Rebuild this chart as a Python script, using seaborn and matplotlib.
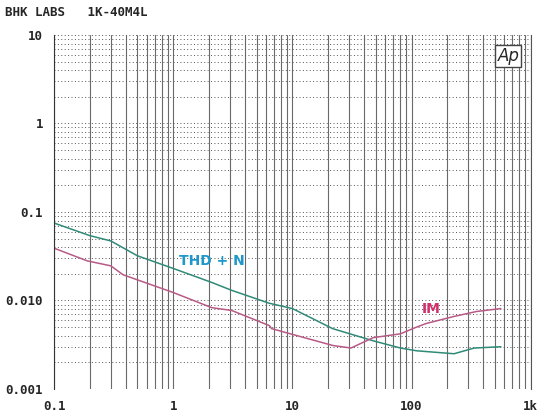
import numpy as np
import pandas as pd
import matplotlib.pyplot as plt
import seaborn as sns
from matplotlib.ticker import FixedLocator, NullFormatter

# values
thd_freq = [0.1, 0.2, 0.3, 0.5, 1.0, 2.1, 3.1, 6.4, 10, 21.8, 47.6, 80.7, 110, 227, 335, 560]
thd_vals = [0.075, 0.054, 0.047, 0.032, 0.023, 0.016, 0.013, 0.0093, 0.0081,
            0.0048, 0.0035, 0.0029, 0.0027, 0.0025, 0.0029, 0.0030]

im_freq = [0.1, 0.19, 0.3, 0.38, 1.0, 2.1, 3.1, 6.4, 6.7, 21.8, 31, 47.6, 80.7, 110, 133, 227, 350, 560]
im_vals = [0.039, 0.028, 0.0246, 0.0195, 0.0123, 0.0083, 0.0077, 0.0052, 0.0048,
           0.0031, 0.0029, 0.0038, 0.0042, 0.0050, 0.0055, 0.0066, 0.0075, 0.0081]

x_ticks = [0.1, 1, 10, 100, 1000]
x_labels = ["0.1", "1", "10", "100", "1k"]
y_ticks = [0.001, 0.01, 0.1, 1, 10]
y_labels = ["0.001", "0.010", "0.1", "1", "10"]

df_thd = pd.DataFrame({"freq": thd_freq, "val": thd_vals})
df_im = pd.DataFrame({"freq": im_freq, "val": im_vals})

sns.set_style("white")
plt.rcParams['font.family'] = ['DejaVu Sans Mono', 'DejaVu Sans']

fig = plt.figure(figsize=(5.4, 4.16), dpi=100)
ax = fig.add_axes([0.1, 0.065, 0.883, 0.851])

sns.lineplot(x="freq", y="val", data=df_thd, ax=ax, color="#2f8a78", linewidth=1.1)
sns.lineplot(x="freq", y="val", data=df_im, ax=ax, color="#b85a86", linewidth=1.1)

ax.set_xscale("log")
ax.set_yscale("log")
ax.set_xlim(0.1, 1000)
ax.set_ylim(0.001, 10)

# grid: solid verticals, dotted horizontals
minor = [m * 10.0 ** e for e in range(-3, 3) for m in range(2, 10)]
ax.xaxis.set_minor_locator(FixedLocator(minor))
ax.yaxis.set_minor_locator(FixedLocator(minor))
ax.xaxis.set_minor_formatter(NullFormatter())
ax.yaxis.set_minor_formatter(NullFormatter())
ax.grid(True, axis="x", which="both", color="#6a6a6a", linewidth=0.8, linestyle="-")
ax.grid(True, axis="y", which="both", color="#555555", linewidth=0.7, linestyle=(0, (1, 2.5)))

ax.set_xticks(x_ticks)
ax.set_xticklabels(x_labels, fontweight="bold", fontsize=9)
ax.set_yticks(y_ticks)
ax.set_yticklabels(y_labels, fontweight="bold", fontsize=9)
ax.tick_params(which="both", length=0, pad=8)
ax.set_xlabel("")
ax.set_ylabel("")

for side in ["top", "bottom"]:
    ax.spines[side].set_visible(False)
ax.spines["left"].set_color("#333333")
ax.spines["right"].set_color("#555555")

ax.text(1.12, 0.028, "THD + N", color="#1e98cc", fontsize=10, va="center",
        fontweight="bold", family=["DejaVu Sans"])
ax.text(122, 0.0081, "IM", color="#d0306c", fontsize=10, va="center",
        fontweight="bold", family=["DejaVu Sans"])
ax.text(0.93, 0.965, "Ap", transform=ax.transAxes, fontsize=12, family=["DejaVu Sans"],
        style="italic", va="top", bbox=dict(facecolor="white", edgecolor="#444444", pad=1.5))

fig.text(0.01, 0.97, "BHK LABS   1K-40M4L", fontsize=9, fontweight="bold", va="center")

plt.savefig("out.png", dpi=100)
